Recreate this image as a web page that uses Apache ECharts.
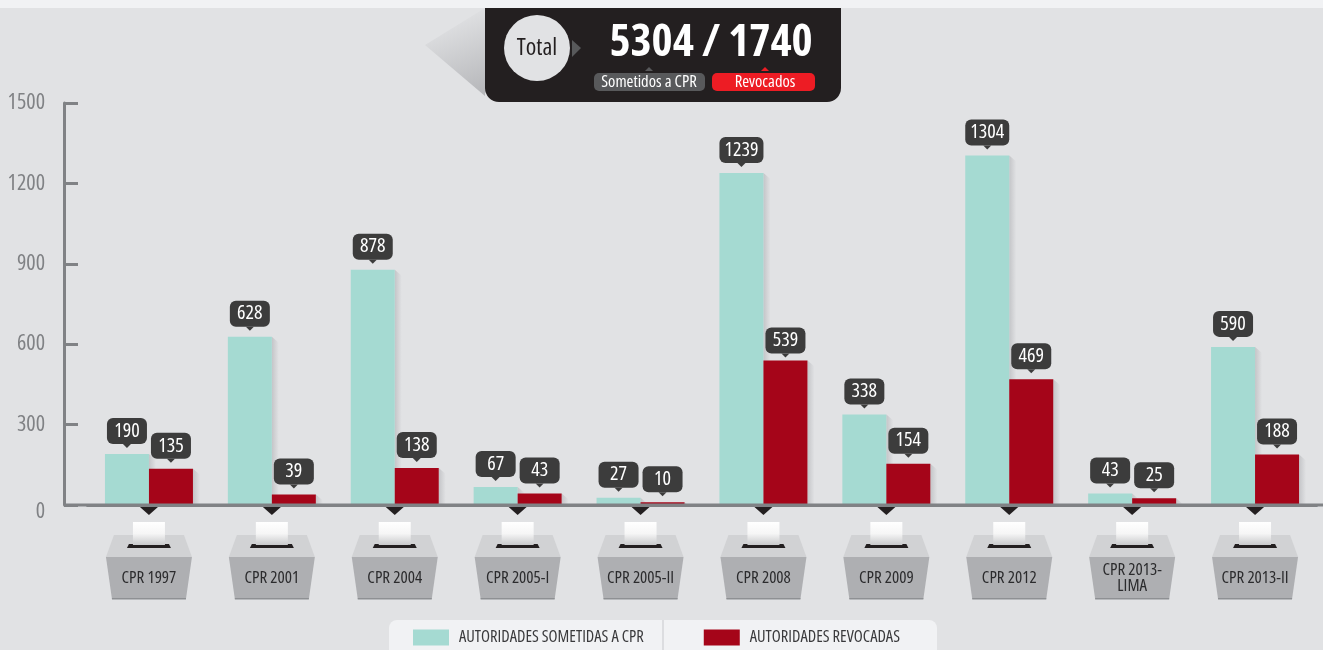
<!DOCTYPE html>
<html>
<head>
<meta charset="utf-8">
<style>
  html, body { margin: 0; padding: 0; background: #e1e2e4; }
  #main { width: 1323px; height: 650px; }
</style>
</head>
<body>
<div id="main"></div>
<script src="https://cdn.jsdelivr.net/npm/echarts@6/dist/echarts.min.js"></script>
<script>
const categories = ["CPR 1997", "CPR 2001", "CPR 2004", "CPR 2005-I", "CPR 2005-II", "CPR 2008", "CPR 2009", "CPR 2012", "CPR 2013-\nLIMA", "CPR 2013-II"];
const sometidos = [190, 628, 878, 67, 27, 1239, 338, 1304, 43, 590];
const revocados = [135, 39, 138, 43, 10, 539, 154, 469, 25, 188];
const yTicks = [0, 300, 600, 900, 1200, 1500];
const totalText = "5304 / 1740";
const legendNames = ["AUTORIDADES SOMETIDAS A CPR", "AUTORIDADES REVOCADAS"];

// "condensed" va en fontWeight porque echarts lo pasa tal cual al font del canvas
const FAMILY = '"Open Sans"';
const COND = "condensed";
const BG = "#e1e2e4";
const BAR_W = 44;

// la etiqueta de 539 esta mas pegada a su barra
const labelGap = v => (v === 539 ? 7 : 10);

// sombra diagonal a la derecha de cada barra
function shadowItem(offset) {
  return function (params, api) {
    const top = api.coord([api.value(0), api.value(1)]);
    const base = api.coord([api.value(0), 0]);
    const x = top[0] + offset;
    return {
      type: "polygon",
      shape: { points: [[x, top[1]], [x + 7, top[1] + 6], [x + 7, base[1]], [x, base[1]]] },
      style: {
        fill: { type: "linear", x: 0, y: 0, x2: 1, y2: 0, colorStops: [{ offset: 0, color: "#c4c5c8" }, { offset: 1, color: BG }] }
      }
    };
  };
}

// piquito de la etiqueta
function arrowItem(offset) {
  return function (params, api) {
    const p = api.coord([api.value(0), api.value(1)]);
    const x = p[0] + offset;
    const y = p[1] - labelGap(api.value(1));
    return {
      type: "polygon",
      shape: { points: [[x - 4, y], [x + 4, y], [x, y + 4]] },
      style: { fill: "#3c3c3c" }
    };
  };
}

// urna debajo de cada categoria
function ballotItem(params, api) {
  const p = api.coord([api.value(0), 0]);
  const c = p[0];
  const y0 = p[1];
  return {
    type: "group",
    children: [
      { type: "polygon", shape: { points: [[c - 9, y0 + 2], [c + 9, y0 + 2], [c, y0 + 10]] }, style: { fill: "#231f20" } },
      { type: "polygon", shape: { points: [[c - 35, y0 + 30], [c + 35, y0 + 30], [c + 43, y0 + 52], [c - 43, y0 + 52]] }, style: { fill: "#d1d2d4" } },
      { type: "polygon", shape: { points: [[c - 43, y0 + 52], [c + 43, y0 + 52], [c + 37, y0 + 94], [c - 37, y0 + 94]] }, style: { fill: "#aeafb2" } },
      { type: "rect", shape: { x: c - 37, y: y0 + 93, width: 74, height: 1.5 }, style: { fill: "#8e9093" } },
      { type: "polygon", shape: { points: [[c - 20, y0 + 39], [c + 20, y0 + 39], [c + 22, y0 + 43], [c - 22, y0 + 43]] }, style: { fill: "#231f20" } },
      {
        type: "rect",
        shape: { x: c - 16, y: y0 + 17, width: 32, height: 23 },
        style: {
          fill: { type: "linear", x: 0, y: 0, x2: 0, y2: 1, colorStops: [{ offset: 0, color: "#ffffff" }, { offset: 0.5, color: "#f6f6f6" }, { offset: 1, color: "#c9cacc" }] }
        }
      }
    ]
  };
}

const toPoints = arr => arr.map((v, i) => [i, v]);
const toBars = arr => arr.map(v => ({ value: v, label: { distance: labelGap(v) } }));

const bubble = { color: "#fff", fontFamily: FAMILY, fontWeight: COND, fontSize: 20, height: 26, lineHeight: 26, align: "center", backgroundColor: "#3c3c3c", borderRadius: 6 };

function barLabel() {
  return {
    show: true,
    position: "top",
    formatter: p => (p.value >= 1000 ? "{w|" : "{n|") + p.value + "}",
    rich: {
      n: Object.assign({ width: 40 }, bubble),
      w: Object.assign({ width: 44 }, bubble)
    }
  };
}

function customSeries(renderItem, data, z) {
  return { type: "custom", renderItem: renderItem, data: data, silent: true, clip: false, z: z, encode: { x: 0, y: 1 } };
}

const header = [
  { type: "rect", shape: { x: 0, y: 0, width: 1323, height: 8 }, style: { fill: "#f1f2f4" } },
  {
    type: "polygon",
    shape: { points: [[425, 45], [485, 8], [485, 96]] },
    style: { fill: { type: "linear", x: 0.4, y: 0.1, x2: 0.95, y2: 1, colorStops: [{ offset: 0, color: BG }, { offset: 1, color: "#b5b6b9" }] } }
  },
  { type: "rect", shape: { x: 485, y: 8, width: 356, height: 94, r: [0, 0, 14, 14] }, style: { fill: "#231f20" } },
  { type: "circle", shape: { cx: 537, cy: 48, r: 33 }, style: { fill: BG } },
  { type: "text", style: { x: 537, y: 48, text: "Total", fill: "#231f20", font: COND + " 24px " + FAMILY, align: "center", verticalAlign: "middle" } },
  { type: "polygon", shape: { points: [[572, 40], [581, 48], [572, 57]] }, style: { fill: "#58595b" } },
  { type: "text", style: { x: 711, y: 43, text: totalText, fill: "#fff", font: "bold " + COND + " 45px " + FAMILY, align: "center", verticalAlign: "middle" } },
  { type: "polygon", shape: { points: [[645, 71], [653, 71], [649, 67]] }, style: { fill: "#58595b" } },
  { type: "polygon", shape: { points: [[761, 71], [769, 71], [765, 67]] }, style: { fill: "#ed1c24" } },
  { type: "rect", shape: { x: 594, y: 73, width: 111, height: 18, r: 5 }, style: { fill: "#58595b" } },
  { type: "rect", shape: { x: 712, y: 73, width: 103, height: 18, r: 5 }, style: { fill: "#ed1c24" } },
  { type: "text", style: { x: 649, y: 82, text: "Sometidos a CPR", fill: "#fff", font: COND + " 16.6px " + FAMILY, align: "center", verticalAlign: "middle" } },
  { type: "text", style: { x: 765, y: 82, text: "Revocados", fill: "#fff", font: COND + " 16.6px " + FAMILY, align: "center", verticalAlign: "middle" } },
  // prolongacion del eje x hacia la izquierda y derecha
  { type: "line", shape: { x1: 64, y1: 505, x2: 1323, y2: 505 }, style: { stroke: "#808285", lineWidth: 3 }, z: 5 },
  // fondo de la leyenda
  { type: "rect", shape: { x: 389, y: 620, width: 548, height: 30, r: [8, 8, 0, 0] }, style: { fill: "#f1f2f4" } },
  { type: "rect", shape: { x: 662, y: 620, width: 2, height: 30 }, style: { fill: "#dcdde0" } }
];

const option = {
  backgroundColor: BG,
  animation: false,
  grid: { left: 87.5, right: 6.5, top: 103, bottom: 145, outerBoundsMode: "none" },
  legend: {
    data: legendNames,
    left: 413,
    top: 629,
    padding: 0,
    icon: "rect",
    itemWidth: 36,
    itemHeight: 16,
    itemGap: 60,
    itemStyle: { borderWidth: 0 },
    textStyle: { color: "#3a3a3c", fontFamily: FAMILY, fontWeight: COND, fontSize: 16.5, padding: [0, 0, 0, 5] },
    selectedMode: false,
    z: 6
  },
  xAxis: {
    type: "category",
    data: categories,
    z: 10,
    axisLine: { lineStyle: { color: "#808285", width: 3 } },
    axisTick: { show: false },
    axisLabel: { color: "#2b2b2d", fontFamily: FAMILY, fontWeight: COND, fontSize: 17, lineHeight: 16, margin: 73, verticalAlign: "middle", interval: 0 }
  },
  yAxis: {
    type: "value",
    min: yTicks[0],
    max: yTicks[yTicks.length - 1],
    interval: 300,
    offset: 23.5,
    splitLine: { show: false },
    axisLine: { show: true, lineStyle: { color: "#808285", width: 3 } },
    axisTick: { show: true, inside: true, length: 14, lineStyle: { color: "#808285", width: 3 } },
    axisLabel: {
      margin: 19,
      color: "#808285",
      fontFamily: FAMILY,
      fontWeight: COND,
      fontSize: 22,
      formatter: v => (v === 0 ? "{z|0}" : String(v)),
      rich: { z: { color: "#808285", fontFamily: FAMILY, fontWeight: COND, fontSize: 22, padding: [14, 0, 0, 0] } }
    }
  },
  graphic: { elements: header },
  series: [
    customSeries(shadowItem(0), toPoints(sometidos), 1),
    customSeries(shadowItem(BAR_W), toPoints(revocados), 1),
    customSeries(ballotItem, categories.map((c, i) => [i, 0]), 1),
    {
      name: legendNames[0],
      type: "bar",
      data: toBars(sometidos),
      barWidth: BAR_W,
      barGap: 0,
      z: 2,
      itemStyle: { color: "#a5dad2" },
      label: barLabel()
    },
    {
      name: legendNames[1],
      type: "bar",
      data: toBars(revocados),
      barWidth: BAR_W,
      barGap: 0,
      z: 3,
      itemStyle: { color: "#a50519" },
      label: barLabel()
    },
    customSeries(arrowItem(-BAR_W / 2), toPoints(sometidos), 4),
    customSeries(arrowItem(BAR_W / 2), toPoints(revocados), 4)
  ]
};

const myChart = echarts.init(document.getElementById("main"));
myChart.setOption(option);
</script>
</body>
</html>
